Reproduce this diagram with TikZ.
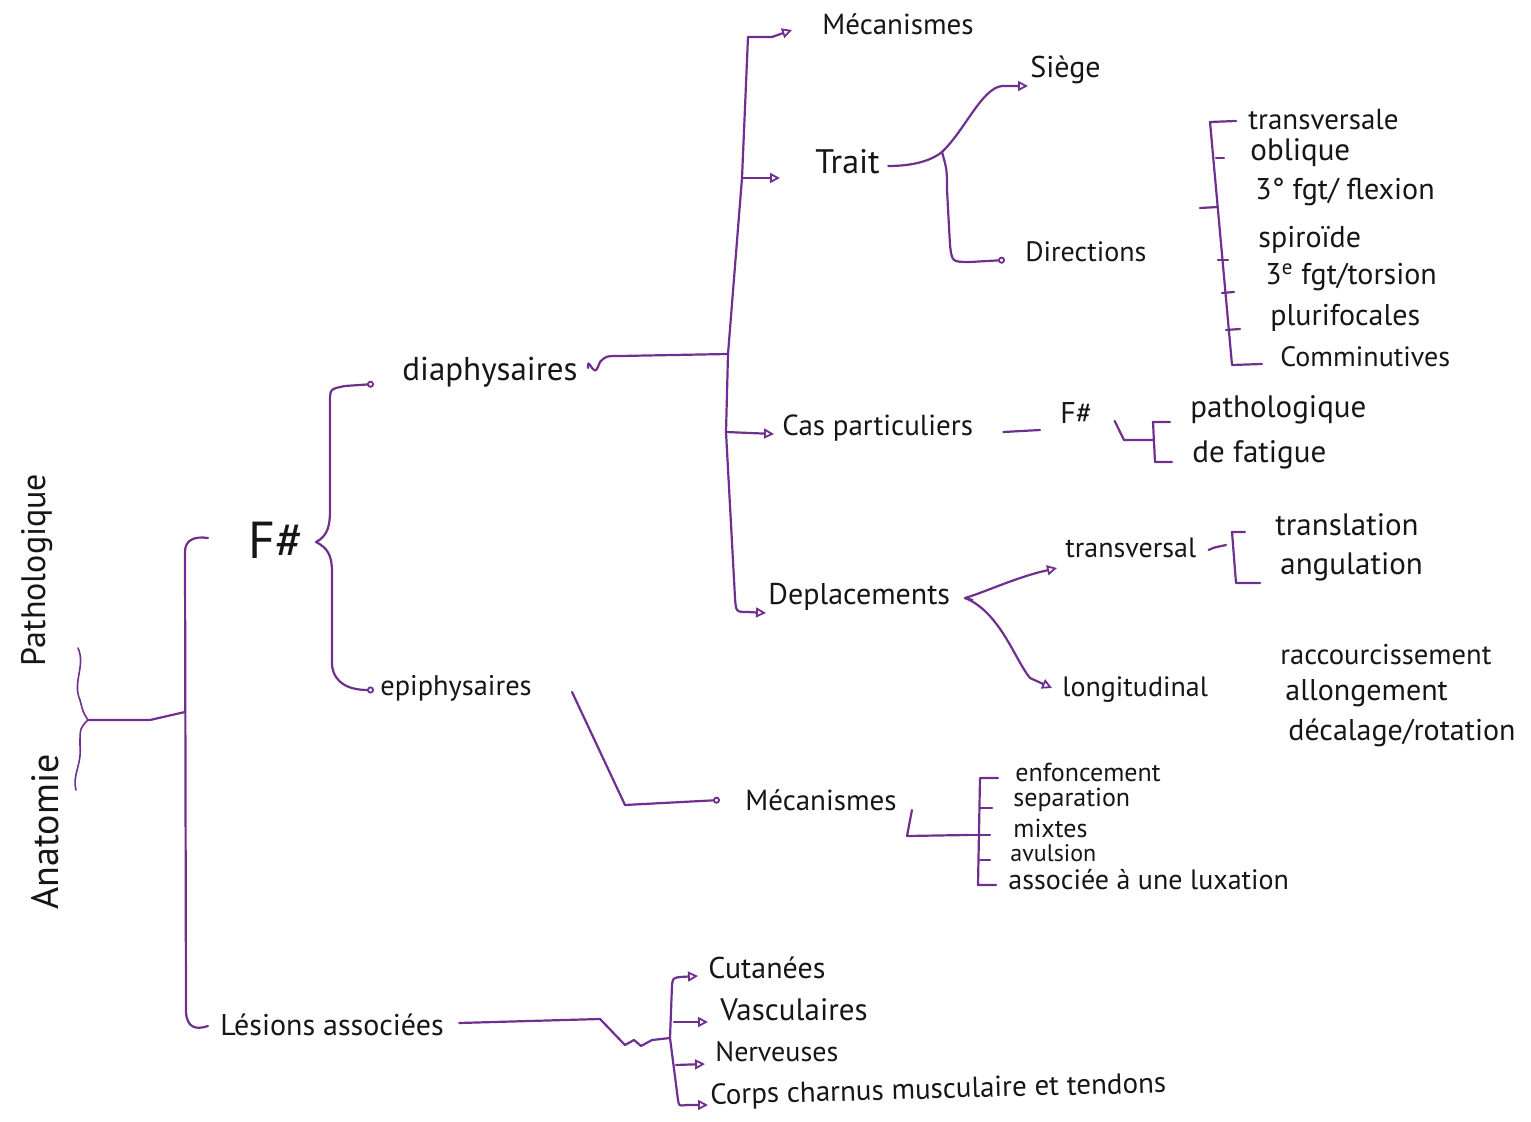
\documentclass[tikz,border=0pt]{standalone}
\usepackage{fontspec}
\setmainfont{PT Sans}
\usetikzlibrary{arrows.meta,calc}
\definecolor{ink}{HTML}{161616}
\definecolor{purp}{HTML}{6E2F8E}
\newcommand\fsz[1]{\fontsize{#1}{#1}\selectfont}
\tikzset{
  lbl/.style={anchor=west, inner sep=0pt, text=ink, font=\fsz{15}},
  con/.style={draw=purp, line width=1.1pt, line cap=round, line join=round},
  thin/.style={draw=purp, line width=0.8pt, line cap=round, line join=round},
  tipd/.style={-{Triangle[open, length=5pt, width=5pt, line width=0.9pt]}},
  tipo/.style={-{Circle[open, length=3.5pt, line width=0.9pt]}},
}
\begin{document}
\begin{tikzpicture}[x=0.5pt,y=-0.5pt]
\useasboundingbox (0,0) rectangle (1531,1122);

% ---------- root labels ----------
\node[lbl, anchor=center, rotate=90, font=\fsz{17}] (patho) at (37,570) {Pathologique};
\node[lbl, anchor=center, rotate=90, font=\fsz{19}] (anat) at (45,832) {Anatomie};
\coordinate (brace) at (88,720);
\draw[thin] (78,648) .. controls (86,666) and (72,682) .. (80,700) .. controls (83,712) .. (brace)
            .. controls (80,728) .. (80,745) .. controls (82,765) and (72,775) .. (76,790);

% ---------- main trunk ----------
\coordinate (jroot) at (185,712);
\draw[con] (brace) -- (150,720) -- (jroot);
\draw[con] (208,538) .. controls (194,536) and (185,540) .. (185,552) -- (186,1012)
           .. controls (187,1028) and (196,1030) .. (208,1026);

% ---------- level 1 ----------
\node[lbl, font=\fsz{26}] (fh) at (248,540) {F\#};
\node[lbl, font=\fsz{15}] (lesion) at (220,1025) {Lésions associées};

% ---------- F# : diaphysaires / epiphysaires ----------
\node[lbl, font=\fsz{16.5}] (diaph) at (402,372) {diaphysaires};
\node[lbl, font=\fsz{14.2}] (epi) at (380,688) {epiphysaires};
\coordinate (fbr) at ($(fh.east)+(12,2)$);
\draw[con, tipo] (fbr) .. controls (328,536) and (330,525) .. (330,510) -- (330,402)
           .. controls (330,389) .. (345,386) -- ($(diaph.west)+(-28,12)$);
\draw[con, tipo] (fbr) .. controls (328,548) and (332,556) .. (332,572) -- (332,665)
           .. controls (334,684) and (350,690) .. ($(epi.west)+(-6,2)$);

% ---------- diaphysaires branches ----------
\node[lbl, font=\fsz{14.5}] (mec1) at (822,24) {Mécanismes};
\node[lbl, font=\fsz{17}] (trait) at (815,162) {Trait};
\node[lbl, font=\fsz{14.5}] (cas) at (782,428) {Cas particuliers};
\node[lbl, font=\fsz{15}] (depl) at (768,597) {Deplacements};

\coordinate (vtop) at (748,37);
\coordinate (vtr) at (742,178);
\coordinate (vdia) at (728,354);
\coordinate (vcas) at (726,432);
\coordinate (vbot) at (735,598);
\draw[con] ($(diaph.east)+(10,-4)$) .. controls (588,362) .. (592,368) .. controls (596,372) .. (600,362)
           .. controls (606,356) .. (620,356) -- (vdia);
\draw[con] (vtop) -- (vtr) -- (vdia) -- (vcas) -- (vbot);
\draw[con, tipd] (vtop) -- (772,37) -- ($(mec1.west)+(-30,6)$);
\draw[con, tipd] (vtr) -- ($(trait.west)+(-35,16)$);
\draw[con, tipd] (vcas) -- ($(cas.west)+(-8,6)$);
\draw[con, tipd] (vbot) .. controls (736,612) .. (748,612) -- ($(depl.west)+(-2,16)$);

% ---------- Trait ----------
\node[lbl, font=\fsz{15}] (siege) at (1030,70) {Siège};
\node[lbl, font=\fsz{14}] (dirs) at (1025,252) {Directions};
\coordinate (jtr) at (942,152);
\draw[con] ($(trait.east)+(8,4)$) .. controls (915,166) and (932,160) .. (jtr);
\draw[con, tipd] (jtr) .. controls (965,130) and (982,88) .. (1002,86) -- ($(siege.west)+(-2,16)$);
\draw[con, tipo] (jtr) .. controls (947,170) .. (947,190) -- (950,245)
           .. controls (952,262) .. (970,262) -- ($(dirs.west)+(-20,8)$);

% ---------- Directions ----------
\node[lbl, font=\fsz{14.5}] (d1) at (1248,120) {transversale};
\node[lbl, font=\fsz{15.5}] (d2) at (1250,153) {oblique};
\node[lbl, font=\fsz{15}] (d3) at (1255,192) {3° fgt/ flexion};
\node[lbl, font=\fsz{15}] (d4) at (1258,240) {spiroïde};
\node[lbl, font=\fsz{15}] (d5) at (1265,277) {3\textsuperscript{e} fgt/torsion};
\node[lbl, font=\fsz{15}] (d6) at (1270,318) {plurifocales};
\node[lbl, font=\fsz{14}] (d7) at (1280,357) {Comminutives};
\draw[con] ($(d1.west)+(-12,1)$) -- (1210,122) -- (1232,365) -- ($(d7.west)+(-18,7)$);
\draw[con] (1216,158) -- (1224,158);
\draw[con] (1200,208) -- (1218,207);
\draw[con] (1218,260) -- (1228,260);
\draw[con] (1222,293) -- (1234,292);
\draw[con] (1226,330) -- (1240,329);

% ---------- Cas particuliers ----------
\node[lbl, font=\fsz{15}] (fcas) at (1060,413) {F\#};
\node[lbl, font=\fsz{15.5}] (pat) at (1190,410) {pathologique};
\node[lbl, font=\fsz{15.5}] (fat) at (1192,455) {de fatigue};
\draw[con] ($(cas.east)+(30,4)$) -- ($(fcas.west)+(-20,17)$);
\draw[con] ($(fcas.east)+(22,8)$) -- (1124,440) -- (1153,440);
\draw[con] ($(pat.west)+(-20,12)$) -- (1153,422) -- (1155,462) -- ($(fat.west)+(-20,7)$);

% ---------- Deplacements ----------
\node[lbl, font=\fsz{14}] (trv) at (1065,548) {transversal};
\node[lbl, font=\fsz{14}] (lon) at (1062,690) {longitudinal};
\coordinate (jdp) at (965,598);
\draw[con] ($(depl.east)+(22,3)$) -- (jdp);
\draw[con, tipd] (jdp) .. controls (985,592) and (1010,580) .. (1040,572) -- ($(trv.west)+(-8,20)$);
\draw[con, tipd] (jdp) .. controls (1000,612) and (1015,660) .. (1030,678) -- ($(lon.west)+(-10,-2)$);

\node[lbl, font=\fsz{15.5}] (trans) at (1275,525) {translation};
\node[lbl, font=\fsz{15.5}] (angu) at (1280,567) {angulation};
\draw[con] ($(trv.east)+(12,2)$) .. controls (1212,548) .. (1226,545);
\draw[con] ($(trans.west)+(-30,7)$) -- (1232,532) -- (1236,583) -- ($(angu.west)+(-20,16)$);

\node[lbl, font=\fsz{14.3}] (racc) at (1280,655) {raccourcissement};
\node[lbl, font=\fsz{15}] (allo) at (1285,693) {allongement};
\node[lbl, font=\fsz{15}] (deca) at (1288,733) {décalage/rotation};

% ---------- epiphysaires ----------
\node[lbl, font=\fsz{14.5}] (mec2) at (745,800) {Mécanismes};
\draw[con, tipo] ($(epi.east)+(40,4)$) -- (625,805) -- ($(mec2.west)+(-25,0)$);

\node[lbl, font=\fsz{13}] (m1) at (1015,772) {enfoncement};
\node[lbl, font=\fsz{13}] (m2) at (1013,800) {separation};
\node[lbl, font=\fsz{13}] (m3) at (1013,828) {mixtes};
\node[lbl, font=\fsz{12}] (m4) at (1010,853) {avulsion};
\node[lbl, font=\fsz{14}] (m5) at (1008,880) {associée à une luxation};
\draw[con] ($(mec2.east)+(15,10)$) -- (907,836) -- (968,835);
\draw[con] ($(m1.west)+(-17,6)$) -- (980,778) -- (978,885) -- ($(m5.west)+(-12,5)$);
\draw[con] (980,808) -- (992,808);
\draw[con] (968,835) -- (990,835);
\draw[con] (980,860) -- (990,860);

% ---------- Lésions associées ----------
\node[lbl, font=\fsz{15}] (cut) at (708,968) {Cutanées};
\node[lbl, font=\fsz{15.5}] (vasc) at (720,1010) {Vasculaires};
\node[lbl, font=\fsz{14}] (nerv) at (715,1052) {Nerveuses};
\node[lbl, font=\fsz{14.5}, rotate=1.5] (corps) at (710,1097) {Corps charnus musculaire et tendons};

\coordinate (jles) at (670,1038);
\draw[con] ($(lesion.east)+(15,-2)$) -- (600,1019) -- (625,1045) -- (634,1040) -- (641,1046)
           -- (652,1040) -- (jles);
\draw[con] (672,985) -- (jles) -- (678,1100);
\draw[con, tipd] (672,985) .. controls (673,978) .. (680,977) -- ($(cut.west)+(-10,8)$);
\draw[con, tipd] (674,1022) -- ($(vasc.west)+(-12,12)$);
\draw[con, tipd] (676,1065) -- ($(nerv.west)+(-10,12)$);
\draw[con, tipd] (678,1100) .. controls (679,1106) .. (686,1105) -- ($(corps.west)+(-2,8)$);
\end{tikzpicture}
\end{document}
